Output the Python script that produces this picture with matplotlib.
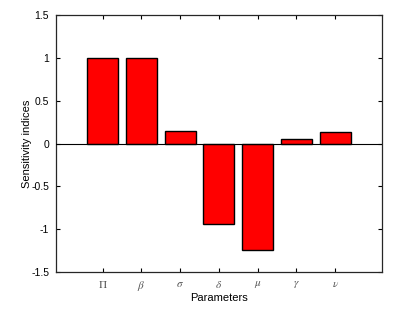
import matplotlib
matplotlib.use("Agg")
import matplotlib.pyplot as plt

params = [r"$\Pi$", r"$\beta$", r"$\sigma$", r"$\delta$", r"$\mu$", r"$\gamma$", r"$\nu$"]
values = [1.0, 1.0, 0.145, -0.94, -1.245, 0.058, 0.14]
yticks = [-1.5, -1, -0.5, 0, 0.5, 1, 1.5]
ytick_labels = ["-1.5", "-1", "-0.5", "0", "0.5", "1", "1.5"]

plt.rcParams['font.family'] = ['Liberation Sans', 'DejaVu Sans']
plt.rcParams['mathtext.fontset'] = 'stix'

fig = plt.figure(figsize=(4.19, 3.11), dpi=100)
ax = fig.add_axes([56/419, 1 - 272/311, (381.7-56)/419, (272-15)/311])

x = list(range(1, len(values) + 1))
ax.bar(x, values, width=0.8, color='#ff0000', edgecolor='black', linewidth=1.0, zorder=2)
ax.axhline(0, color='black', linewidth=0.8, zorder=3)

ax.set_xlim(-0.2, 8.2)
ax.set_ylim(-1.5, 1.5)
ax.set_xticks(x)
ax.set_xticklabels(params, fontsize=8, color='#555555')
ax.set_yticks(yticks)
ax.set_yticklabels(ytick_labels, fontsize=7.5)
ax.tick_params(direction='in', top=True, right=True, length=3, width=0.8, pad=5)
for s in ax.spines.values():
    s.set_linewidth(0.9)
    s.set_color('#262626')
ax.set_xlabel("Parameters", fontsize=8, labelpad=0)
ax.set_ylabel("Sensitivity indices", fontsize=8, labelpad=-1)

fig.savefig("out.png", dpi=100)
